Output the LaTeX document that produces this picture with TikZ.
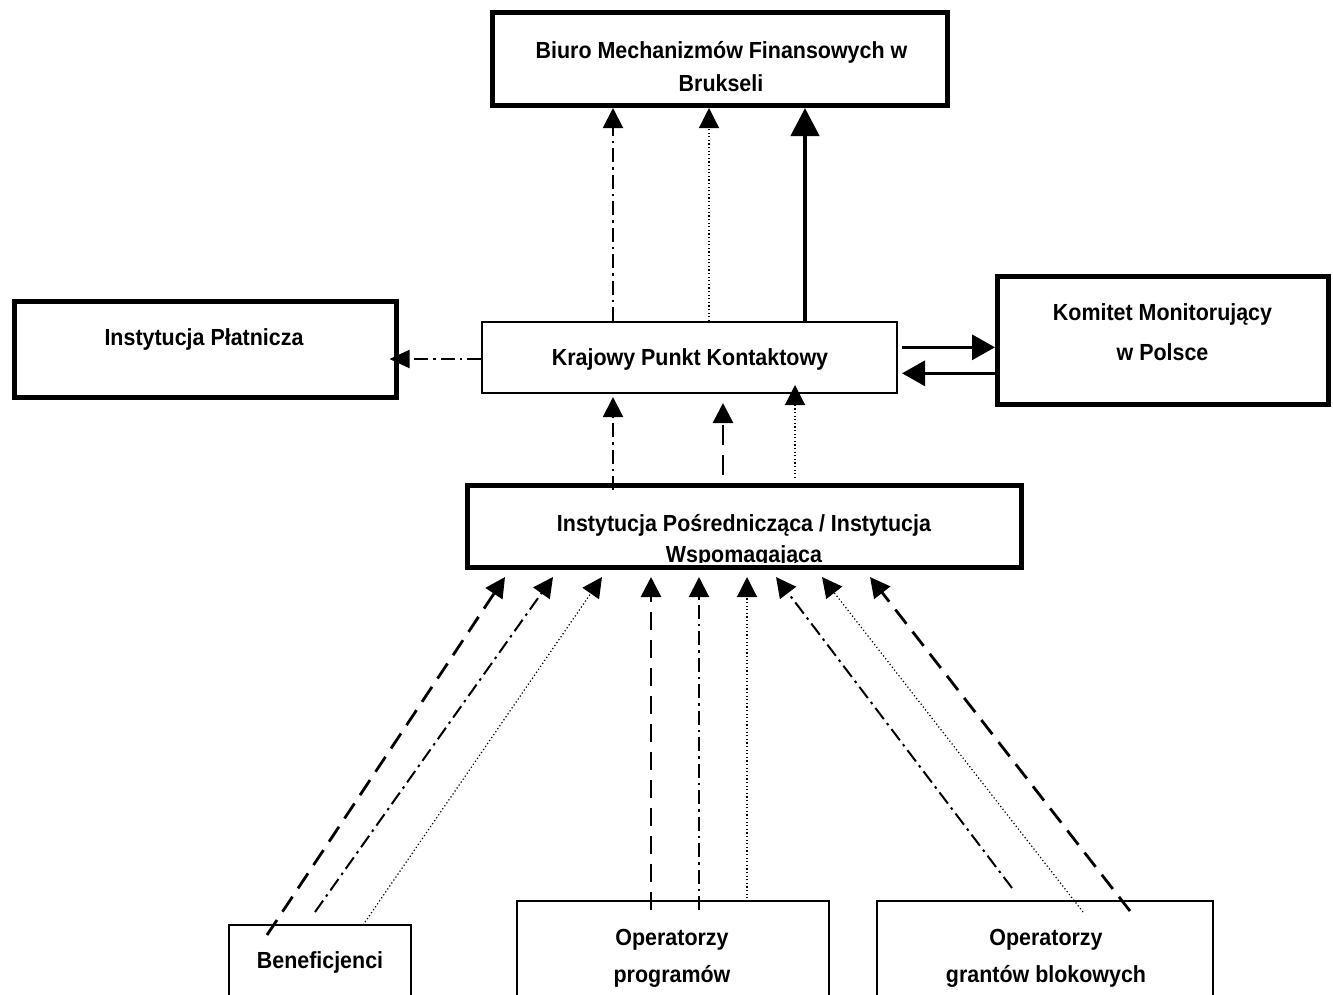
\documentclass[tikz,border=0pt]{standalone}
\usepackage{fontspec}
\setmainfont[FakeStretch=0.92]{Liberation Sans}
\usetikzlibrary{arrows.meta,calc}
\begin{document}
\begin{tikzpicture}[x=1pt,y=-1pt,
  thickbox/.style={draw,line width=5pt,fill=white,inner sep=0pt},
  thinbox/.style={draw,line width=2pt,fill=white,inner sep=0pt},
  lbl/.style={anchor=base,inner sep=0pt,font=\bfseries\fontsize{23.3}{28}\selectfont},
  tipS/.style={-{Triangle[length=20pt,width=20pt]}},
  dsh/.style={line width=2.8pt,dash pattern=on 18pt off 10pt,tipS},
  dshdot/.style={line width=2pt,dash pattern=on 14pt off 5pt on 2.5pt off 5pt,tipS},
  dtt/.style={line width=1.2pt,dash pattern=on 1.2pt off 2.4pt,tipS},
  solidarrow/.style={line width=3.3pt,-{Triangle[length=23pt,width=25pt]}},
  bigarrow/.style={line width=4.5pt,-{Triangle[length=28pt,width=28pt]}}
]
\useasboundingbox (0,0) rectangle (1333,994);

% boxes
\node[thickbox, minimum width=455pt, minimum height=93.5pt] (bmf) at (720,58.75) {};
\node[thickbox, minimum width=382pt, minimum height=96.5pt] (ip) at (205,349.25) {};
\node[thinbox, minimum width=415pt, minimum height=71pt] (kpk) at (689.5,357.5) {};
\node[thickbox, minimum width=330.5pt, minimum height=128pt] (km) at (1162.75,340.5) {};
\node[thickbox, minimum width=553.5pt, minimum height=82pt] (ipo) at (744.25,526.5) {};
\node[thinbox, minimum width=182pt, minimum height=90pt] (ben) at (320,970) {};
\node[thinbox, minimum width=312pt, minimum height=110pt] (opp) at (673,956) {};
\node[thinbox, minimum width=336pt, minimum height=110pt] (opg) at (1045,956) {};

% texts
\node[lbl] (t1) at (721.5,58) {Biuro Mechanizmów Finansowych w};
\node[lbl] (t2) at (721,91) {Brukseli};
\node[lbl] (t3) at (204,345) {Instytucja Płatnicza};
\node[lbl] (t4) at (690,365) {Krajowy Punkt Kontaktowy};
\node[lbl] (t5) at (1162.5,320) {Komitet Monitorujący};
\node[lbl] (t6) at (1162.5,360) {w Polsce};
\node[lbl] (t7) at (744,531) {Instytucja Pośrednicząca / Instytucja};
\begin{scope}
  \clip (ipo.north west) rectangle ($(ipo.south east)+(0,-8)$);
  \node[lbl] (t8) at (744,562) {Wspomagająca};
\end{scope}
\node[lbl] (t9) at (320,968) {Beneficjenci};
\node[lbl] (t10) at (672,945) {Operatorzy};
\node[lbl] (t11) at (672,982) {programów};
\node[lbl] (t12) at (1046,945) {Operatorzy};
\node[lbl] (t13) at (1046,982) {grantów blokowych};

% helper coordinates
\coordinate (a1) at (613,0);
\coordinate (a2) at (709,0);
\coordinate (a3) at (805,0);
\coordinate (a4) at (723,0);
\coordinate (a5) at (795,0);
\coordinate (b1) at (0,359);
\coordinate (k1) at (0,347.3);
\coordinate (k2) at (0,373.3);

% KPK -> BMF
\draw[dshdot] (kpk.north -| a1) -- (bmf.south -| a1);
\draw[dtt] (kpk.north -| a2) -- (bmf.south -| a2);
\draw[bigarrow] (kpk.north -| a3) -- (bmf.south -| a3);

% KPK -> IP
\draw[dshdot,-{Triangle[length=20pt,width=18pt]},shorten >=-9pt] (kpk.west |- b1) -- (ip.east |- b1);

% KPK <-> KM
\draw[solidarrow] ($(kpk.east |- k1)+(4,0)$) -- (km.west |- k1);
\draw[solidarrow] (km.west |- k2) -- ($(kpk.east |- k2)+(4,0)$);

% IPo -> KPK
\draw[dshdot] ($(ipo.north -| a1)+(0,7)$) -- ($(kpk.south -| a1)+(0,3)$);
\draw[line width=2.8pt,dash pattern=on 20pt off 10pt,tipS] ($(ipo.north -| a4)+(0,-8)$) -- ($(kpk.south -| a4)+(0,9)$);
\draw[dtt] ($(ipo.north -| a5)+(0,-5)$) -- ($(kpk.south -| a5)+(0,-9)$);

% Beneficjenci -> IPo
\coordinate (s1) at (267,935);
\coordinate (s2) at (315,912);
\coordinate (s3) at (363,925);
\coordinate (e1) at (505,0);
\coordinate (e2) at (553,0);
\coordinate (e3) at (602,0);
\draw[dsh] (s1) -- ($(ipo.south -| e1)+(0,7)$);
\draw[dshdot] (s2) -- ($(ipo.south -| e2)+(0,7)$);
\draw[dtt] (s3) -- ($(ipo.south -| e3)+(0,7)$);

% Operatorzy programow -> IPo
\coordinate (s4) at (651,910);
\coordinate (s5) at (699,910);
\coordinate (s6) at (747,902);
\draw[dsh] (s4) -- ($(ipo.south -| s4)+(0,7)$);
\draw[dshdot] (s5) -- ($(ipo.south -| s5)+(0,7)$);
\draw[dtt] (s6) -- ($(ipo.south -| s6)+(0,7)$);

% Operatorzy grantow -> IPo
\coordinate (s7) at (1012,888);
\coordinate (s8) at (1083,912);
\coordinate (s9) at (1130,911);
\coordinate (e7) at (776,0);
\coordinate (e8) at (822,0);
\coordinate (e9) at (870,0);
\draw[dshdot] (s7) -- ($(ipo.south -| e7)+(0,7)$);
\draw[dtt] (s8) -- ($(ipo.south -| e8)+(0,7)$);
\draw[dsh] (s9) -- ($(ipo.south -| e9)+(0,7)$);
\end{tikzpicture}
\end{document}
